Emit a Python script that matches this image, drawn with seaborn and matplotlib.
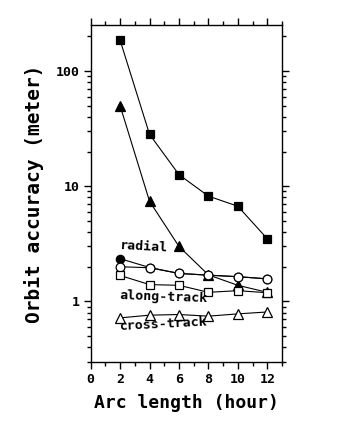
import matplotlib
matplotlib.use("Agg")
import matplotlib.pyplot as plt
from matplotlib.ticker import LogLocator, NullFormatter, FixedLocator
import numpy as np
import pandas as pd
import seaborn as sns

# Arc length (hours)
arc_hours = [2, 4, 6, 8, 10, 12]

# Orbit accuracy (meters) for each solution
total_err_a = [185, 28.2, 12.6, 8.2, 6.7, 3.5]        # filled squares
total_err_b = [50, 7.4, 3.0, 1.70, 1.38, 1.20]       # filled triangles
radial_b = [2.35, 1.97, 1.75, 1.69, 1.64, 1.57]      # filled circles
radial_a = [2.0, 1.96, 1.75, 1.69, 1.64, 1.57]       # open circles
along_track = [1.68, 1.40, 1.38, 1.20, 1.24, 1.19]   # open squares
cross_track = [0.72, 0.76, 0.77, 0.745, 0.78, 0.81]  # open triangles

x_ticks = [0, 2, 4, 6, 8, 10, 12]
y_ticks = [1, 10, 100]
y_tick_labels = ["1", "10", "100"]

series = [
    ("total_a", total_err_a, "s", "black", 6.0),
    ("total_b", total_err_b, "^", "black", 7.0),
    ("radial_b", radial_b, "o", "black", 6.0),
    ("radial_a", radial_a, "o", "white", 6.3),
    ("along", along_track, "s", "white", 6.0),
    ("cross", cross_track, "^", "white", 7.0),
]

sns.set_style("ticks")
plt.rcParams["font.family"] = ["DejaVu Sans Mono", "DejaVu Sans"]
plt.rcParams["font.weight"] = "bold"
plt.rcParams["text.color"] = "black"
plt.rcParams["axes.labelcolor"] = "black"
plt.rcParams["xtick.color"] = "black"
plt.rcParams["ytick.color"] = "black"
plt.rcParams["axes.edgecolor"] = "black"

fig = plt.figure(figsize=(3.46, 4.33), dpi=100)
ax = fig.add_axes([0.262, 0.1647, 0.553, 0.7773])

for name, vals, mk, fc, ms in series:
    df = pd.DataFrame({"hour": arc_hours, "acc": vals})
    sns.lineplot(data=df, x="hour", y="acc", ax=ax, color="black",
                 linewidth=0.8, marker=mk, markersize=ms,
                 markerfacecolor=fc, markeredgecolor="black",
                 markeredgewidth=0.9)

ax.set_yscale("log")
ax.set_xlim(0, 13)
ax.set_ylim(0.3, 250)

ax.xaxis.set_major_locator(FixedLocator(x_ticks))
ax.xaxis.set_minor_locator(FixedLocator([1, 3, 5, 7, 9, 11, 13]))
ax.set_xticklabels([str(t) for t in x_ticks])
ax.yaxis.set_major_locator(FixedLocator(y_ticks))
ax.yaxis.set_minor_locator(LogLocator(base=10, subs=np.arange(2, 10)))
ax.yaxis.set_minor_formatter(NullFormatter())
ax.set_yticklabels(y_tick_labels)

for s in ax.spines.values():
    s.set_visible(True)
    s.set_linewidth(1.0)
    s.set_color("black")

ax.tick_params(which="both", direction="out", top=True, right=True,
               labeltop=False, labelright=False, color="black",
               labelcolor="black", width=1.0)
ax.tick_params(which="major", length=5, labelsize=9.5, pad=3)
ax.tick_params(which="minor", length=3)
for lbl in ax.get_xticklabels() + ax.get_yticklabels():
    lbl.set_fontweight("bold")

ax.set_xlabel("Arc length (hour)", fontsize=13, fontweight="bold",
              labelpad=6, color="black")
ax.set_ylabel("Orbit accuracy (meter)", fontsize=14, fontweight="bold",
              labelpad=8, color="black")

ax.text(1.92, 2.99, "radial", fontsize=9.5, fontweight="bold",
        ha="left", va="center", rotation=-3, color="black")
ax.text(1.92, 1.10, "along-track", fontsize=9.5, fontweight="bold",
        ha="left", va="center", rotation=-2, color="black")
ax.text(1.92, 0.63, "cross-track", fontsize=9.5, fontweight="bold",
        ha="left", va="center", rotation=3, color="black")

ax.grid(False)
fig.savefig("out.png", dpi=100, facecolor="white")
